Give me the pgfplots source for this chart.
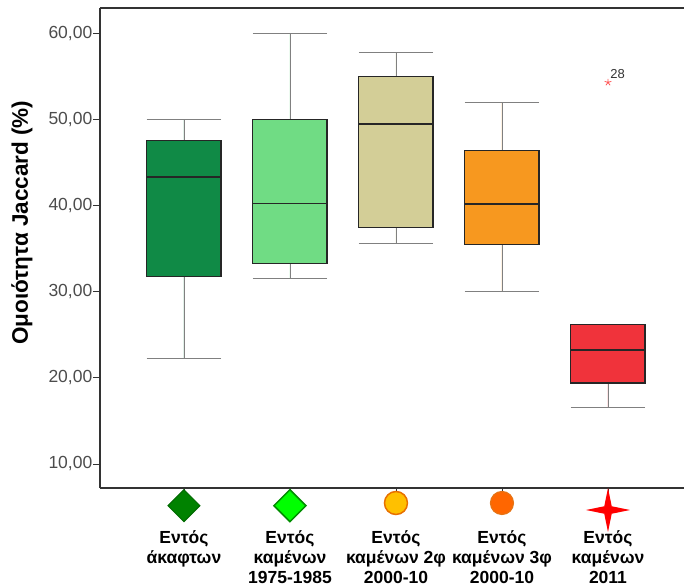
\documentclass[border=0pt]{standalone}
\usepackage{pgfplots}
\pgfplotsset{compat=1.18}
\usepgfplotslibrary{statistics}
\usepackage{fontspec}
\setmainfont{Liberation Sans}
\definecolor{bA}{RGB}{16,138,70}
\definecolor{bB}{RGB}{112,220,132}
\definecolor{bC}{RGB}{211,206,151}
\definecolor{bD}{RGB}{247,152,31}
\definecolor{bE}{RGB}{240,51,59}
\definecolor{mA}{RGB}{0,130,0}
\definecolor{mAb}{RGB}{0,105,0}
\definecolor{mB}{RGB}{0,255,0}
\definecolor{mBb}{RGB}{0,140,0}
\definecolor{mC}{RGB}{255,192,0}
\definecolor{mCb}{RGB}{232,112,0}
\definecolor{mD}{RGB}{255,102,0}
\definecolor{mDb}{RGB}{230,115,20}
\pgfdeclareplotmark{star4}{%
  \pgfpathmoveto{\pgfqpoint{0pt}{\pgfplotmarksize}}%
  \pgfpathlineto{\pgfqpoint{.17\pgfplotmarksize}{.17\pgfplotmarksize}}%
  \pgfpathlineto{\pgfqpoint{\pgfplotmarksize}{0pt}}%
  \pgfpathlineto{\pgfqpoint{.17\pgfplotmarksize}{-.17\pgfplotmarksize}}%
  \pgfpathlineto{\pgfqpoint{0pt}{-\pgfplotmarksize}}%
  \pgfpathlineto{\pgfqpoint{-.17\pgfplotmarksize}{-.17\pgfplotmarksize}}%
  \pgfpathlineto{\pgfqpoint{-\pgfplotmarksize}{0pt}}%
  \pgfpathlineto{\pgfqpoint{-.17\pgfplotmarksize}{.17\pgfplotmarksize}}%
  \pgfpathclose
  \pgfusepathqfill}
\pgfplotsset{
  bxstyle/.style={
    every box/.style={draw=black!85, fill=#1, line width=1.2bp},
    every whisker/.style={draw=black!50, line width=0.9bp},
    every median/.style={draw=black!85, line width=1.8bp}},
}
\begin{document}
\begin{tikzpicture}
\begin{axis}[
  scale only axis, width=584bp, height=480bp,
  xmin=-0.792, xmax=4.717, ymin=7.21, ymax=62.94,
  axis x line*=box, axis y line*=left,
  axis line style={black!80, line width=1.1bp},
  clip=false,
  xtick={0,1,2,3,4},
  xticklabels={{Εντός\\άκαφτων},{Εντός\\καμένων\\1975-1985},{Εντός\\καμένων 2φ\\2000-10},{Εντός\\καμένων 3φ\\2000-10},{Εντός\\καμένων\\2011}},
  ytick={10,20,30,40,50,60},
  tick align=outside, major tick length=6.5bp,
  tick style={black!80, line width=0.8bp},
  xtick pos=left, ytick pos=left,
  xticklabel style={anchor=north, align=center, inner sep=0pt, yshift=-35.5bp,
    font=\fontsize{17.5bp}{20.3bp}\selectfont\bfseries},
  yticklabel style={inner sep=0pt, xshift=-1bp, text=black!70,
    font=\fontsize{17.5bp}{20bp}\selectfont,
    /pgf/number format/.cd, fixed, fixed zerofill, precision=2, use comma, assume math mode=true},
  ylabel={Ομοιότητα Jaccard (\%)},
  ylabel style={at={(axis description cs:-0.1336,0.553)}, anchor=center,
    font=\fontsize{22.5bp}{26bp}\selectfont\bfseries},
  boxplot/draw direction=y,
  boxplot/box extend=0.7,
  boxplot/whisker extend=0.7,
]
\coordinate (SW) at (rel axis cs:0,0);
\coordinate (NE) at (rel axis cs:1,1);
\addplot+[boxplot prepared={draw position=0, lower whisker=22.2, lower quartile=31.8, median=43.3, upper quartile=47.6, upper whisker=50.0,
   /pgfplots/bxstyle=bA}, draw=black!85, fill=bA, mark=none, solid] coordinates {};
\addplot+[boxplot prepared={draw position=1, lower whisker=31.55, lower quartile=33.3, median=40.25, upper quartile=50.0, upper whisker=60.0,
   /pgfplots/bxstyle=bB}, draw=black!85, fill=bB, mark=none, solid] coordinates {};
\addplot+[boxplot prepared={draw position=2, lower whisker=35.6, lower quartile=37.5, median=49.5, upper quartile=55.0, upper whisker=57.75,
   /pgfplots/bxstyle=bC}, draw=black!85, fill=bC, mark=none, solid] coordinates {};
\addplot+[boxplot prepared={draw position=3, lower whisker=30.0, lower quartile=35.5, median=40.2, upper quartile=46.4, upper whisker=52.0,
   /pgfplots/bxstyle=bD}, draw=black!85, fill=bD, mark=none, solid] coordinates {};
\addplot+[boxplot prepared={draw position=4, lower whisker=16.6, lower quartile=19.4, median=23.2, upper quartile=26.2, upper whisker=26.2,
   /pgfplots/bxstyle=bE}, draw=black!85, fill=bE, mark=none, solid] coordinates {};
\addplot[only marks, mark=star, mark size=3.5bp, color=red!65, line width=0.8bp] coordinates {(4,54.3)}
  node[anchor=south west, xshift=2bp, yshift=3bp, inner sep=0pt, text=black!80, font=\fontsize{13bp}{15bp}\selectfont]{28};
% category markers below the axis
\addplot[only marks, mark=square*, mark size=11.3bp, mark options={rotate=45, fill=mA, draw=mAb, line width=1bp}] coordinates {(0,5.155)};
\addplot[only marks, mark=square*, mark size=11.3bp, mark options={rotate=45, fill=mB, draw=mBb, line width=1.5bp}] coordinates {(1,5.155)};
\addplot[only marks, mark=*, mark size=11.5bp, mark options={fill=mC, draw=mCb, line width=1.5bp}] coordinates {(2,5.47)};
\addplot[only marks, mark=*, mark size=11.5bp, mark options={fill=mD, draw=mDb, line width=1.2bp}] coordinates {(3,5.47)};
\addplot[only marks, mark=star4, mark size=22bp, mark options={fill=red}] coordinates {(4,4.656)};
\end{axis}
\pgfresetboundingbox
\path ([xshift=-100bp,yshift=-100bp]SW) rectangle ([yshift=8bp]NE);
\end{tikzpicture}
\end{document}
